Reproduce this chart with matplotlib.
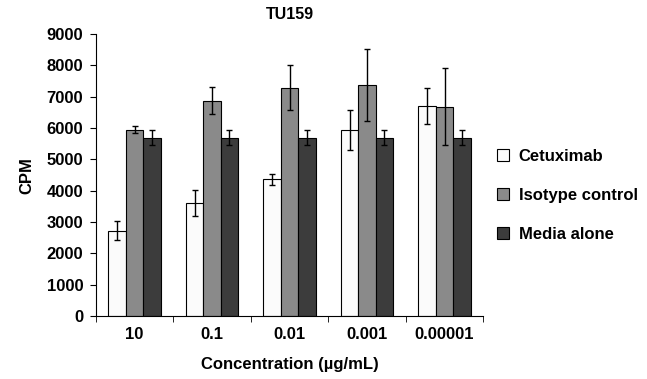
import numpy as np
import matplotlib
matplotlib.use("Agg")
import matplotlib.pyplot as plt
from matplotlib import rcParams
rcParams.update({'font.family': 'Liberation Sans', 'font.weight': 'bold', 'font.size': 12})

concs = ["10", "0.1", "0.01", "0.001", "0.00001"]
cetuximab = [2720, 3620, 4360, 5950, 6690]
cetuximab_err = [300, 420, 175, 640, 575]
isotype = [5950, 6870, 7290, 7370, 6680]
isotype_err = [120, 430, 710, 1140, 1230]
media = [5700, 5700, 5700, 5700, 5700]
media_err = [250, 250, 250, 250, 250]

fig = plt.figure(figsize=(6.47, 3.79), dpi=100)
ax = fig.add_axes([0.148, 0.166, 0.599, 0.744])

x = np.arange(len(concs))
w = 0.225
series = [
    (cetuximab, cetuximab_err, "#fbfbfb", "Cetuximab"),
    (isotype, isotype_err, "#8a8a8a", "Isotype control"),
    (media, media_err, "#3c3c3c", "Media alone"),
]
for i, (vals, errs, col, lab) in enumerate(series):
    ax.bar(x + (i - 1) * w, vals, w, color=col, edgecolor="black", linewidth=0.8,
           label=lab, yerr=errs, capsize=2.5,
           error_kw=dict(ecolor="black", elinewidth=1, capthick=1))

ax.set_xlim(-0.5, len(concs) - 0.5)
ax.set_ylim(0, 9000)
ax.set_yticks(np.arange(0, 9001, 1000))
ax.set_xticks(x)
ax.set_xticklabels(concs)
ax.set_xticks(np.arange(-0.5, len(concs), 1), minor=True)
ax.tick_params(axis="x", which="major", length=0, pad=8)
ax.tick_params(axis="x", which="minor", length=4, direction="out")
ax.tick_params(axis="y", length=4, direction="out", pad=5)
for s in ["top", "right"]:
    ax.spines[s].set_visible(False)

ax.set_title("TU159", fontweight="bold", fontsize=11.5, pad=11)
ax.set_xlabel("Concentration (µg/mL)", fontweight="bold", fontsize=12, labelpad=11)
ax.set_ylabel("CPM", fontweight="bold", fontsize=12, labelpad=9)

fig.legend(loc="center left", bbox_to_anchor=(0.745, 0.485), frameon=False,
           handlelength=0.7, handleheight=0.7, labelspacing=1.45, handletextpad=0.6)

fig.savefig("out.png", dpi=100)
